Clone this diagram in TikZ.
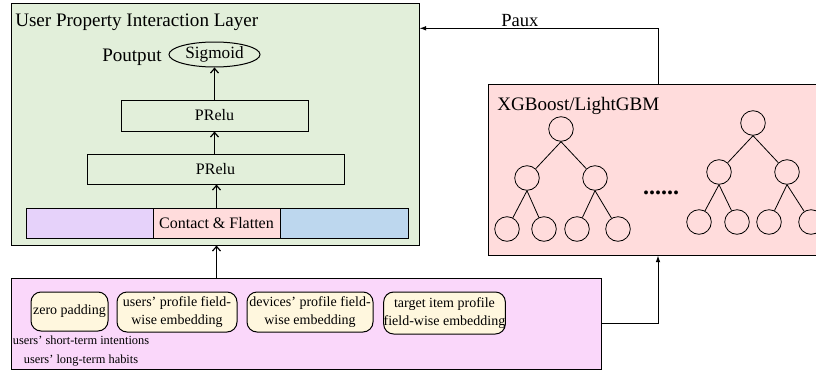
\documentclass[tikz,border=0pt]{standalone}
\usepackage{fontspec}
\setmainfont{Liberation Serif}
\usetikzlibrary{arrows.meta,shapes.geometric}
\definecolor{gfill}{RGB}{226,239,218}
\definecolor{purplec}{RGB}{230,210,250}
\definecolor{pinkc}{RGB}{255,220,220}
\definecolor{bluec}{RGB}{189,215,238}
\definecolor{magc}{RGB}{250,215,250}
\definecolor{creamc}{RGB}{255,247,222}
\begin{document}
\begin{tikzpicture}[x=0.75pt,y=-0.75pt,
  frame/.style={draw,line width=0.75pt,inner sep=0pt},
  cell/.style={frame,minimum height=22.5pt,font=\fontsize{12}{14}\selectfont},
  emb/.style={draw,line width=0.75pt,rounded corners=7.5pt,fill=creamc,inner sep=0pt,align=center,font=\fontsize{10.5}{13.5}\selectfont},
  leaf/.style={draw,circle,line width=0.6pt,inner sep=0pt,minimum size=18.45pt},
  openarr/.style={-{Straight Barb[length=3.5pt,width=6pt]},line width=0.9pt},
  fillarr/.style={-{Latex[length=5pt,width=3.5pt]},line width=0.75pt},
  edge/.style={line width=0.6pt}]
\useasboundingbox (0,0) rectangle (816,371);

% green layer
\node[frame,fill=gfill,minimum width=306pt,minimum height=181.5pt] (green) at (215,124) {};
\node[anchor=base west,inner sep=0pt,font=\fontsize{14.3}{16}\selectfont] (title) at (15,26.5) {User Property Interaction Layer};
\node[anchor=base west,inner sep=0pt,font=\fontsize{14.3}{16}\selectfont] (pout) at (102,61) {Poutput};
\node[draw,ellipse,line width=0.75pt,inner sep=0pt,minimum width=68.25pt,minimum height=18.75pt,font=\fontsize{12.9}{15}\selectfont] (sig) at (214.5,54.5) {Sigmoid};
\node[cell,minimum width=140.25pt,minimum height=23.25pt] (pr1) at (214.5,115.5) {PRelu};
\node[cell,minimum width=192.75pt] (pr2) at (215.5,169) {PRelu};
\node[cell,fill=purplec,minimum width=95.25pt] (cl) at (89.5,223) {};
\node[cell,fill=pinkc,minimum width=95.25pt] (cc) at (216.5,223) {Contact \& Flatten};
\node[cell,fill=bluec,minimum width=96pt] (cr) at (344,223) {};
\draw[openarr] (pr1.north) -- (sig.south);
\draw[openarr] (pr2.north -| pr1.north) -- (pr1.south);
\draw[openarr] (cc.north) -- (pr2.south -| cc.north);

% XGBoost box
\node[frame,fill=pinkc,minimum width=255pt,minimum height=128.25pt] (xgb) at (658,169.5) {};
\node[anchor=base west,inner sep=0pt,font=\fontsize{14.3}{16}\selectfont] (xgbt) at (497,110) {XGBoost/LightGBM};
% tree 1
\node[leaf] (a) at (561,129) {};
\node[leaf] (a1) at (527,178) {};
\node[leaf] (a2) at (595,178) {};
\node[leaf] (a11) at (507,229) {};
\node[leaf] (a12) at (544,229) {};
\node[leaf] (a21) at (577,229) {};
\node[leaf] (a22) at (618,229) {};
\draw[edge] (a.south) -- (a1); \draw[edge] (a.south) -- (a2);
\draw[edge] (a1.south) -- (a11); \draw[edge] (a1.south) -- (a12);
\draw[edge] (a2.south) -- (a21); \draw[edge] (a2.south) -- (a22);
% dots
\node[inner sep=0pt,font=\fontsize{18}{20}\selectfont\bfseries] (dots) at (661,193) {......};
% tree 2
\node[leaf] (b) at (753,123) {};
\node[leaf] (b1) at (719,172) {};
\node[leaf] (b2) at (787,172) {};
\node[leaf] (b11) at (699,222) {};
\node[leaf] (b12) at (737,222) {};
\node[leaf] (b21) at (769,222) {};
\node[leaf] (b22) at (811,222) {};
\draw[edge] (b.south) -- (b1); \draw[edge] (b.south) -- (b2);
\draw[edge] (b1.south) -- (b11); \draw[edge] (b1.south) -- (b12);
\draw[edge] (b2.south) -- (b21); \draw[edge] (b2.south) -- (b22);

% Paux arrow
\coordinate (pc) at (658,28.3);
\draw[fillarr] (xgb.north) -- (pc) -- (green.east |- pc);
\node[anchor=base west,inner sep=0pt,font=\fontsize{13.9}{16}\selectfont] (paux) at (501,26.5) {Paux};

% bottom box
\node[frame,fill=magc,minimum width=442.5pt,minimum height=68.25pt] (bot) at (306,323.5) {};
\node[emb,minimum width=57.75pt,minimum height=29.25pt] (zp) at (69.5,311.5) {zero padding};
\node[emb,minimum width=90pt,minimum height=30pt] (up) at (177,312) {users’ profile field-\\wise embedding};
\node[emb,minimum width=94.5pt,minimum height=30pt] (dp) at (310,312) {devices’ profile field-\\wise embedding};
\node[emb,minimum width=89.25pt,minimum height=31.5pt] (ti) at (444.5,313) {target item profile\\field-wise embedding};
\node[inner sep=0pt,align=center,font=\fontsize{9.3}{14}\selectfont] (habits) at (81,351) {users’ short-term intentions\\users’ long-term habits};

\draw[openarr] (bot.north -| cc.north) -- (green.south -| cc.north);
\draw[fillarr] (bot.east) -| (xgb.south);
\end{tikzpicture}
\end{document}
